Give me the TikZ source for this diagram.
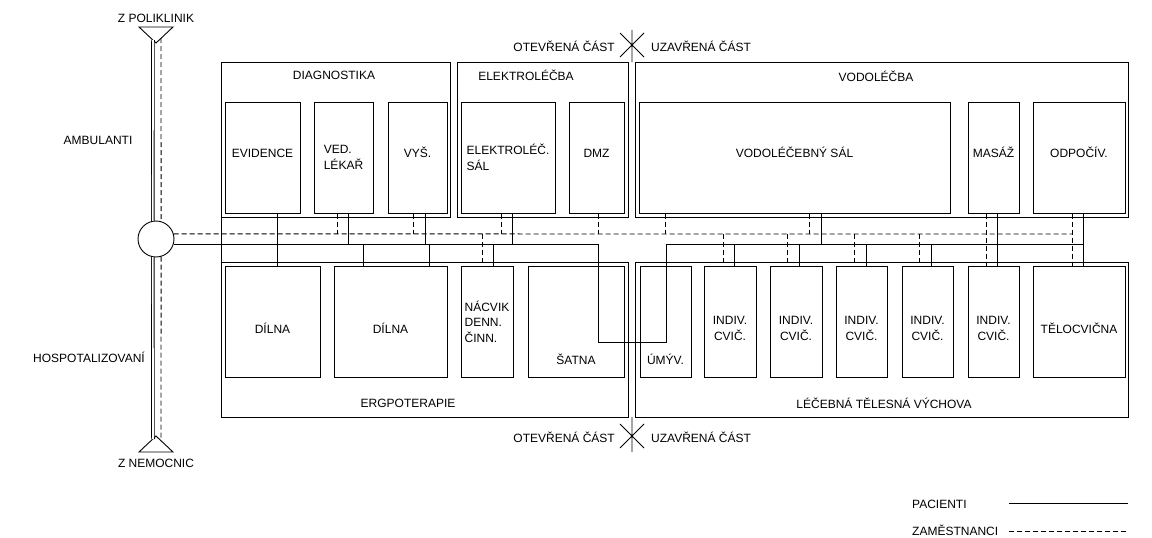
\documentclass[tikz,border=0pt]{standalone}
\usepackage{fontspec}
\setmainfont{Liberation Sans}
\usetikzlibrary{fit}

\begin{document}
\begin{tikzpicture}[x=1pt, y=-1pt,
        font=\fontsize{12}{15.5}\selectfont,
        wall/.style={line width=1pt},
        room/.style={draw, line width=1pt, inner sep=0pt},
        low/.style={label={[align=center, yshift=-7pt]center:#1}},
        lft/.style={label={[align=left]center:#1}},
        pat/.style={line width=0.9pt},
        staff/.style={line width=0.9pt, dash pattern=on 5pt off 3pt},
        vchod/.style={line width=0.9pt, double, double distance=1.7pt},
        txt/.style={inner sep=0pt}]

        \useasboundingbox (0,0) rectangle (1152,538);

        \draw[wall] (221,62) rectangle (450,217);
        \draw[wall] (457,62) rectangle (628,217);
        \draw[wall] (635,62) rectangle (1128,217);
        \draw[wall] (221,262) rectangle (628,417);
        \draw[wall] (635,262) rectangle (1128,417);
        \draw[wall] (221,217) -- (221,262);

        \node[txt] (tdia) at (334,75) {DIAGNOSTIKA};
        \node[txt] (tele) at (526,75) {ELEKTROLÉČBA};
        \node[txt] (tvod) at (876,76) {VODOLÉČBA};
        \node[txt] (terg) at (408,403) {ERGPOTERAPIE};
        \node[txt] (tltv) at (884,403) {LÉČEBNÁ TĚLESNÁ VÝCHOVA};

        \node[room, fit={(225,102) (300,213)}] (evid) {EVIDENCE};
        \node[room, lft={VED.\\LÉKAŘ}, fit={(314,102) (373,213)}] (led) {};
        \node[room, fit={(388,102) (447,213)}] (vys) {VYŠ.};
        \node[room, lft={ELEKTROLÉČ.\\SÁL}, fit={(461,102) (555,213)}] (esal) {};
        \node[room, fit={(569,102) (624,213)}] (dmz) {DMZ};
        \node[room, fit={(639,102) (950,213)}] (vsal) {VODOLÉČEBNÝ SÁL};
        \node[room, fit={(968,102) (1019,213)}] (mas) {MASÁŽ};
        \node[room, fit={(1033,102) (1125,213)}] (odp) {ODPOČÍV.};

        \node[room, low={DÍLNA}, fit={(225,266) (320,377)}] (dil1) {};
        \node[room, low={DÍLNA}, fit={(334,266) (447,377)}] (dil2) {};
        \node[room, lft={NÁCVIK\\DENN.\\ČINN.}, fit={(461,266) (513,377)}] (nac) {};
        \node[room, label={[yshift=-38pt]center:ŠATNA}, fit={(528,266) (624,377)}] (sat) {};
        \node[room, label={[yshift=-38pt]center:ÚMÝV.}, fit={(640,266) (691,377)}] (umy) {};
        \node[room, low={INDIV.\\CVIČ.}, fit={(704,266) (756,377)}] (ind1) {};
        \node[room, low={INDIV.\\CVIČ.}, fit={(770,266) (822,377)}] (ind2) {};
        \node[room, low={INDIV.\\CVIČ.}, fit={(836,266) (887,377)}] (ind3) {};
        \node[room, low={INDIV.\\CVIČ.}, fit={(902,266) (953,377)}] (ind4) {};
        \node[room, low={INDIV.\\CVIČ.}, fit={(968,266) (1019,377)}] (ind5) {};
        \node[room, low={TĚLOCVIČNA}, fit={(1033,266) (1125,377)}] (tel) {};

        \node[draw, circle, line width=0.9pt, minimum size=36pt, inner sep=0pt] (circ) at (156,239) {};
        \draw[line width=0.9pt] (139,27) -- (173,27) -- (156,43) -- cycle;
        \draw[line width=0.9pt] (139,452) -- (173,452) -- (156,436) -- cycle;
        \coordinate (pol1) at (153,40);
        \coordinate (pol2) at (161,38);
        \coordinate (nem1) at (153,439);
        \coordinate (nem2) at (161,441);
        \node[txt] (tpol) at (156,18) {Z POLIKLINIK};
        \node[txt] (tnem) at (156,463) {Z NEMOCNIC};
        \node[txt] (tamb) at (98,140) {AMBULANTI};
        \node[txt] (thos) at (89,357) {HOSPOTALIZOVANÍ};

        \draw[vchod] (pol1) -- (circ.100);
        \draw[vchod] (circ.-100) -- (nem1);
        \draw[staff] (pol2) -- (circ.74);
        \draw[staff] (circ.-74) -- (nem2);

        \coordinate (dl) at (0,234);
        \coordinate (sl) at (0,244);

        \draw[pat] (circ.-16) -| (598,342) -- (666,342) |- (sl -| 1083,0);
        \draw[pat] (evid.south -| 277,0) -- (dil1.north -| 277,0);
        \draw[pat] (led.south -| 348,0) -- (sl -| 348,0);
        \draw[pat] (vys.south -| 425,0) -- (sl -| 425,0);
        \draw[pat] (sl -| 363,0) -- (dil2.north -| 363,0);
        \draw[pat] (sl -| 429,0) -- (dil2.north -| 429,0);
        \draw[pat] (esal.south -| 512,0) -- (sl -| 512,0);
        \draw[pat] (sl -| 493,0) -- (nac.north -| 493,0);
        \draw[pat] (vsal.south -| 821,0) -- (sl -| 821,0);
        \draw[pat] (sl -| 734,0) -- (ind1.north -| 734,0);
        \draw[pat] (sl -| 799,0) -- (ind2.north -| 799,0);
        \draw[pat] (sl -| 866,0) -- (ind3.north -| 866,0);
        \draw[pat] (sl -| 931,0) -- (ind4.north -| 931,0);
        \draw[pat] (mas.south -| 997,0) -- (ind5.north -| 997,0);
        \draw[pat] (odp.south -| 1083,0) -- (tel.north -| 1083,0);

        \draw[staff] (circ.16) -- (dl -| 1072,0);
        \draw[staff] (led.south -| 337,0) -- (dl -| 337,0);
        \draw[staff] (vys.south -| 413,0) -- (dl -| 413,0);
        \draw[staff] (esal.south -| 501,0) -- (dl -| 501,0);
        \draw[staff] (dmz.south -| 598,0) -- (dl -| 598,0);
        \draw[staff] (dl -| 482,0) -- (nac.north -| 482,0);
        \draw[staff] (vsal.south -| 665,0) -- (dl -| 665,0);
        \draw[staff] (vsal.south -| 809,0) -- (dl -| 809,0);
        \draw[staff] (dl -| 723,0) -- (ind1.north -| 723,0);
        \draw[staff] (dl -| 787,0) -- (ind2.north -| 787,0);
        \draw[staff] (dl -| 854,0) -- (ind3.north -| 854,0);
        \draw[staff] (dl -| 919,0) -- (ind4.north -| 919,0);
        \draw[staff] (mas.south -| 986,0) -- (ind5.north -| 986,0);
        \draw[staff] (odp.south -| 1072,0) -- (tel.north -| 1072,0);

        \draw[pat] (620,33) -- (644,57) (620,57) -- (644,33) (632,30) -- (632,62);
        \draw[pat] (620,424) -- (644,448) (620,448) -- (644,424) (632,417) -- (632,452);
        \node[txt, anchor=east] (otv1) at (615,46) {OTEVŘENÁ ČÁST};
        \node[txt, anchor=west] (uza1) at (651,46) {UZAVŘENÁ ČÁST};
        \node[txt, anchor=east] (otv2) at (615,437) {OTEVŘENÁ ČÁST};
        \node[txt, anchor=west] (uza2) at (651,437) {UZAVŘENÁ ČÁST};

        \node[txt, anchor=west] (lpac) at (912,504) {PACIENTI};
        \draw[pat] (1009,503) -- (1128,503);
        \node[txt, anchor=west] (lzam) at (912,530) {ZAMĚSTNANCI};
        \draw[staff] (1009,531) -- (1128,531);
    \end{tikzpicture}
\end{document}
